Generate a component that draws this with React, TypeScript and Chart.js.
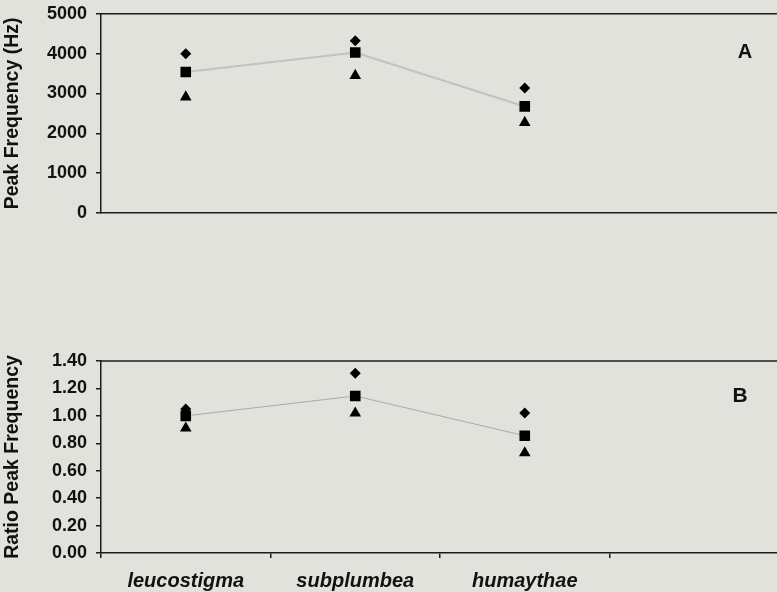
import React, { useEffect, useRef } from 'react';
import { Chart, registerables } from 'chart.js';

Chart.register(...registerables);

// ---- data ----
const categories = ['leucostigma', 'subplumbea', 'humaythae', ''];

const peakMax = [4000, 4325, 3140];
const peakMean = [3540, 4030, 2675];
const peakMin = [2910, 3450, 2270];

const ratioMax = [1.05, 1.31, 1.02];
const ratioMean = [1.0, 1.145, 0.855];
const ratioMin = [0.91, 1.02, 0.73];

const peakAxis = { min: 0, max: 5000, step: 1000 };
const ratioAxis = { min: 0, max: 1.4, step: 0.2 };

// ---- styles ----
const BG = '#e1e2dc';
const AXIS = '#1c1c1c';
const TEXT = '#111111';
const FONT = '"Liberation Sans", Arial, Helvetica, sans-serif';

function panelPlugin(letter: string, dx: number, dy: number, size: number) {
  return {
    id: 'panel' + letter,
    beforeDatasetsDraw(chart: any) {
      const { ctx, chartArea } = chart;
      ctx.save();
      ctx.strokeStyle = AXIS;
      ctx.lineWidth = 1.5;
      ctx.beginPath();
      ctx.moveTo(chartArea.left, chartArea.top);
      ctx.lineTo(chartArea.right, chartArea.top);
      ctx.stroke();
      ctx.fillStyle = TEXT;
      ctx.font = `bold ${size}px ${FONT}`;
      ctx.textAlign = 'center';
      ctx.textBaseline = 'middle';
      ctx.fillText(letter, chartArea.right - dx, chartArea.top + dy);
      ctx.restore();
    },
  };
}

function makeDatasets(maxV: number[], meanV: number[], minV: number[], lineColor: string, lineWidth: number) {
  return [
    {
      label: 'max',
      data: maxV,
      showLine: false,
      pointStyle: 'rectRot',
      pointRadius: 5.5,
      pointBackgroundColor: '#000',
      pointBorderColor: '#000',
      pointBorderWidth: 0,
    },
    {
      label: 'min',
      data: minV,
      showLine: false,
      pointStyle: 'triangle',
      pointRadius: 6.7,
      pointBackgroundColor: '#000',
      pointBorderColor: '#000',
      pointBorderWidth: 0,
    },
    {
      label: 'mean',
      data: meanV,
      showLine: true,
      borderColor: lineColor,
      borderWidth: lineWidth,
      tension: 0,
      pointStyle: 'rect',
      pointRadius: 7.5,
      pointBackgroundColor: '#000',
      pointBorderColor: '#000',
      pointBorderWidth: 0,
    },
  ];
}

function yScale(axis: { min: number; max: number; step: number }, title: string, fmt: (v: number) => string) {
  return {
    type: 'linear',
    position: 'left',
    min: axis.min,
    max: axis.max,
    ticks: {
      stepSize: axis.step,
      callback: (v: any) => fmt(Number(v)),
      font: { family: FONT, size: 18, weight: 'bold' },
      color: TEXT,
      padding: 9,
    },
    grid: {
      display: true,
      drawOnChartArea: false,
      drawTicks: true,
      tickLength: 5,
      color: AXIS,
      lineWidth: 1.5,
    },
    border: { display: true, color: AXIS, width: 1.5 },
    title: {
      display: true,
      text: title,
      color: TEXT,
      font: { family: FONT, size: 19.5, weight: 'bold' },
      padding: { top: 1, bottom: 0 },
    },
    afterFit: (s: any) => {
      s.width = 101;
    },
  };
}

export default function App() {
  const topRef = useRef<HTMLCanvasElement>(null);
  const botRef = useRef<HTMLCanvasElement>(null);

  useEffect(() => {
    const top = new Chart(topRef.current as HTMLCanvasElement, {
      type: 'line',
      data: {
        labels: categories,
        datasets: makeDatasets(peakMax, peakMean, peakMin, '#c2c2be', 2) as any,
      },
      options: {
        responsive: false,
        animation: false,
        devicePixelRatio: 1,
        events: [],
        layout: { padding: { top: 7, right: 21, left: 0, bottom: 0 } },
        plugins: { legend: { display: false }, tooltip: { enabled: false } },
        scales: {
          x: {
            type: 'category',
            offset: true,
            grid: { display: false },
            ticks: { display: false },
            border: { display: true, color: AXIS, width: 1.5 },
            afterFit: (s: any) => {
              s.height = 27;
            },
          },
          y: yScale(peakAxis, 'Peak Frequency (Hz)', (v) => String(Math.round(v))),
        } as any,
      },
      plugins: [panelPlugin('A', 34, 39, 20)],
    });

    const bot = new Chart(botRef.current as HTMLCanvasElement, {
      type: 'line',
      data: {
        labels: categories,
        datasets: makeDatasets(ratioMax, ratioMean, ratioMin, '#a9a9a5', 1) as any,
      },
      options: {
        responsive: false,
        animation: false,
        devicePixelRatio: 1,
        events: [],
        layout: { padding: { top: 121, right: 21, left: 0, bottom: 0 } },
        plugins: { legend: { display: false }, tooltip: { enabled: false } },
        scales: {
          x: {
            type: 'category',
            offset: true,
            grid: {
              display: true,
              offset: true,
              drawOnChartArea: false,
              drawTicks: true,
              tickLength: 5,
              color: AXIS,
              lineWidth: 1.5,
            },
            ticks: {
              font: { family: FONT, size: 20, weight: 'bold', style: 'italic' },
              color: TEXT,
              padding: 11,
              maxRotation: 0,
              autoSkip: false,
            },
            border: { display: true, color: AXIS, width: 1.5 },
            afterFit: (s: any) => {
              s.height = 39;
            },
          },
          y: yScale(ratioAxis, 'Ratio Peak Frequency', (v) => v.toFixed(2)),
        } as any,
      },
      plugins: [panelPlugin('B', 39, 35, 21)],
    });

    return () => {
      top.destroy();
      bot.destroy();
    };
  }, []);

  return (
    <div
      style={{
        position: 'fixed',
        left: 0,
        top: 0,
        width: 777,
        height: 592,
        overflow: 'hidden',
        background: BG,
      }}
    >
      <canvas
        ref={topRef}
        width={800}
        height={246}
        style={{ position: 'absolute', left: 0, top: -6, width: 800, height: 246, display: 'block' }}
      />
      <canvas
        ref={botRef}
        width={800}
        height={352}
        style={{ position: 'absolute', left: 0, top: 240, width: 800, height: 352, display: 'block' }}
      />
    </div>
  );
}
